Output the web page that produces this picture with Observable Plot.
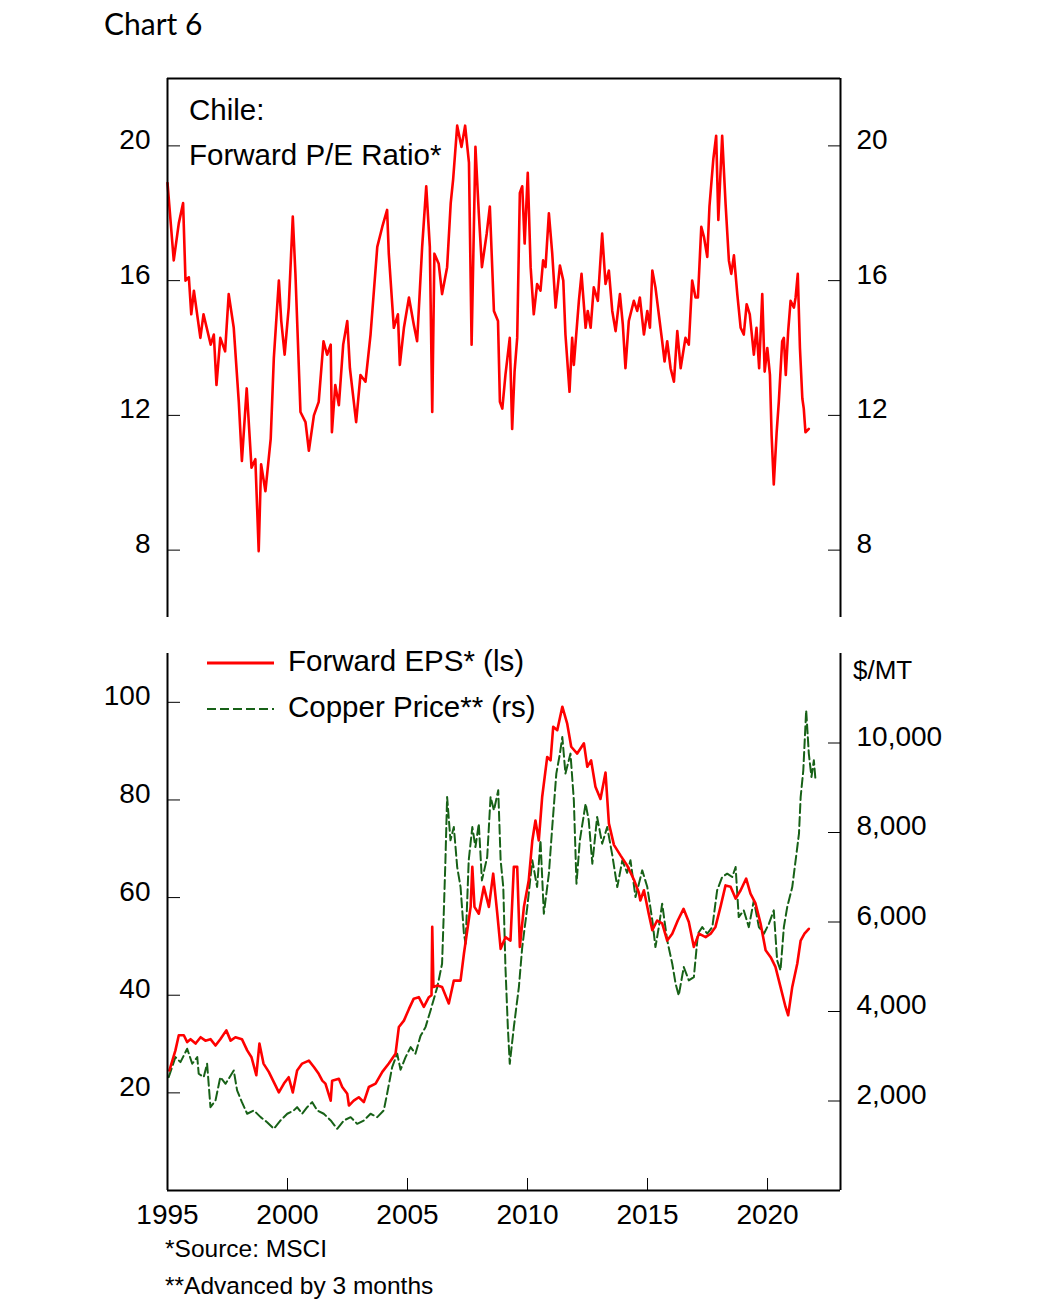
<!DOCTYPE html>
<html><head><meta charset="utf-8">
<script src="https://cdn.jsdelivr.net/npm/d3@7"></script>
<script src="https://cdn.jsdelivr.net/npm/@observablehq/plot@0.6"></script>
<style>
body{margin:0;background:#fff;}
#page{position:relative;width:1042px;height:1316px;font-family:"Liberation Sans",Arial,sans-serif;color:#000;overflow:hidden;}
.abs{position:absolute;white-space:nowrap;line-height:1;}
</style></head><body><div id="page">
<div class="abs" style="left:104px;top:8px;font-family:Lato,'Open Sans',sans-serif;font-size:30px">Chart 6</div>
<div id="topChart" class="abs" style="left:0;top:60px"></div>
<div id="botChart" class="abs" style="left:0;top:640px"></div>
<div class="abs" style="left:189px;top:95px;font-size:29.5px">Chile:</div>
<div class="abs" style="left:189px;top:140px;font-size:29.5px">Forward P/E Ratio*</div>
<svg class="abs" style="left:200px;top:650px" width="80" height="70">
  <line x1="7" x2="74" y1="13" y2="13" stroke="#ff0000" stroke-width="3"/>
  <line x1="7" x2="74" y1="59" y2="59" stroke="#176117" stroke-width="1.8" stroke-dasharray="9,4"/>
</svg>
<div class="abs" style="left:288px;top:646px;font-size:29.5px">Forward EPS* (ls)</div>
<div class="abs" style="left:288px;top:692px;font-size:29.5px">Copper Price** (rs)</div>
<div class="abs" style="left:853px;top:657px;font-size:26px">$/MT</div>
<div class="abs" style="left:165px;top:1237px;font-size:24.5px">*Source: MSCI</div>
<div class="abs" style="left:165px;top:1274px;font-size:24.5px">**Advanced by 3 months</div>
</div>
<script>
// ---------- data ----------
const xTicks = [1995, 2000, 2005, 2010, 2015, 2020];
const peTicks = [8, 12, 16, 20];
const epsTicks = [20, 40, 60, 80, 100];
const cuTicks = [2000, 4000, 6000, 8000, 10000];

const peYears = [1995.00,1995.26,1995.47,1995.65,1995.75,1995.89,1995.99,1996.10,1996.37,1996.50,1996.80,1996.93,1997.04,1997.20,1997.40,1997.55,1997.76,1997.97,1998.10,1998.30,1998.50,1998.66,1998.80,1998.90,1999.08,1999.30,1999.43,1999.64,1999.74,1999.88,2000.05,2000.22,2000.33,2000.54,2000.75,2000.89,2001.10,2001.30,2001.50,2001.65,2001.80,2001.85,2001.99,2002.14,2002.32,2002.49,2002.60,2002.86,2003.04,2003.25,2003.46,2003.74,2003.95,2004.15,2004.22,2004.43,2004.60,2004.68,2004.85,2005.06,2005.26,2005.40,2005.61,2005.78,2005.93,2006.03,2006.12,2006.30,2006.44,2006.65,2006.80,2006.90,2007.07,2007.25,2007.40,2007.56,2007.67,2007.83,2007.97,2008.10,2008.30,2008.43,2008.60,2008.77,2008.85,2008.95,2009.08,2009.26,2009.36,2009.46,2009.57,2009.68,2009.78,2009.88,2010.01,2010.13,2010.26,2010.40,2010.54,2010.65,2010.75,2010.89,2011.03,2011.17,2011.35,2011.49,2011.58,2011.75,2011.86,2011.93,2012.14,2012.25,2012.42,2012.51,2012.63,2012.76,2012.93,2013.11,2013.25,2013.39,2013.53,2013.67,2013.85,2013.97,2014.08,2014.22,2014.43,2014.57,2014.68,2014.85,2014.99,2015.10,2015.20,2015.33,2015.47,2015.61,2015.71,2015.82,2015.96,2016.10,2016.24,2016.38,2016.58,2016.72,2016.86,2017.00,2017.10,2017.24,2017.35,2017.49,2017.58,2017.74,2017.86,2017.95,2018.11,2018.25,2018.39,2018.49,2018.60,2018.74,2018.88,2019.01,2019.13,2019.26,2019.43,2019.54,2019.65,2019.78,2019.88,2019.99,2020.10,2020.17,2020.26,2020.38,2020.47,2020.61,2020.68,2020.76,2020.86,2020.96,2021.10,2021.17,2021.26,2021.35,2021.45,2021.51,2021.58,2021.72];
const peValues = [18.9,16.6,17.7,18.3,16.0,16.1,15.0,15.7,14.3,15.0,14.1,14.4,12.9,14.3,13.9,15.6,14.6,12.4,10.65,12.8,10.45,10.7,7.97,10.55,9.75,11.3,13.7,16.0,14.8,13.8,15.2,17.9,16.2,12.1,11.8,10.95,12.0,12.4,14.2,13.8,14.1,11.5,12.9,12.3,14.1,14.8,13.4,11.8,13.2,13.0,14.4,17.0,17.6,18.1,16.8,14.6,15.0,13.5,14.6,15.5,14.7,14.2,17.0,18.8,17.0,12.1,16.8,16.5,15.6,16.4,18.3,19.0,20.6,19.97,20.6,19.5,14.1,19.97,18.0,16.4,17.4,18.2,15.1,14.8,12.4,12.2,13.2,14.3,11.6,13.3,14.3,18.6,18.8,17.1,19.2,16.4,15.0,15.9,15.7,16.6,16.4,18.0,16.8,15.2,16.45,16.0,14.4,12.7,14.3,13.5,15.4,16.2,14.6,15.1,14.6,15.8,15.4,17.4,15.9,16.3,15.1,14.5,15.6,14.7,13.4,14.8,15.4,15.1,15.5,14.4,15.1,14.6,16.3,15.8,15.0,14.2,13.6,14.2,13.4,13.0,14.5,13.4,14.3,14.1,16.0,15.5,15.5,17.6,17.3,16.7,18.2,19.6,20.3,17.8,20.3,18.3,16.6,16.2,16.75,15.6,14.6,14.4,15.3,15.0,13.8,14.6,13.4,15.6,13.3,14.0,13.2,11.4,9.95,11.5,12.4,14.2,14.3,13.2,14.5,15.4,15.2,15.5,16.2,14.0,12.5,12.2,11.5,11.6];

const epsYears = [1995.08,1995.33,1995.47,1995.68,1995.82,1995.96,1996.17,1996.38,1996.58,1996.79,1997.00,1997.20,1997.45,1997.63,1997.83,1998.10,1998.32,1998.50,1998.70,1998.83,1999.00,1999.22,1999.43,1999.64,1999.85,2000.05,2000.22,2000.40,2000.61,2000.89,2001.10,2001.30,2001.45,2001.58,2001.80,2001.86,2002.14,2002.28,2002.49,2002.56,2002.76,2002.97,2003.18,2003.39,2003.67,2003.95,2004.22,2004.50,2004.64,2004.85,2005.06,2005.26,2005.47,2005.68,2005.89,2006.00,2006.03,2006.08,2006.25,2006.44,2006.72,2006.93,2007.21,2007.35,2007.49,2007.63,2007.70,2007.79,2007.97,2008.18,2008.39,2008.57,2008.74,2008.88,2009.08,2009.29,2009.43,2009.57,2009.68,2009.85,2010.05,2010.20,2010.33,2010.47,2010.61,2010.82,2010.96,2011.07,2011.24,2011.45,2011.65,2011.82,2012.07,2012.35,2012.49,2012.65,2012.83,2013.04,2013.25,2013.39,2013.60,2013.88,2014.15,2014.43,2014.64,2014.70,2014.85,2015.05,2015.20,2015.40,2015.61,2015.82,2016.03,2016.26,2016.50,2016.72,2016.93,2017.14,2017.42,2017.63,2017.83,2018.04,2018.25,2018.46,2018.67,2018.88,2019.11,2019.29,2019.50,2019.71,2019.92,2020.13,2020.33,2020.54,2020.75,2020.86,2021.03,2021.24,2021.38,2021.54,2021.72];
const epsValues = [24.6,28.7,31.8,31.8,30.4,31.0,30.1,31.4,30.7,31.0,29.7,31.0,32.8,30.7,31.4,31.0,28.7,27.3,23.6,30.1,26.0,24.3,22.2,20.1,21.9,23.2,20.1,24.6,26.0,26.6,25.3,23.9,22.5,21.9,18.4,22.5,22.9,21.2,19.8,17.4,18.4,19.1,18.1,21.2,21.9,24.3,26.0,28.0,33.5,34.8,37.2,39.3,39.6,37.6,39.6,40.0,54.0,41.7,42.0,41.7,38.3,43.0,43.0,48.5,53.3,58.1,66.3,58.1,56.7,62.2,58.1,64.9,56.7,49.5,51.9,51.2,66.3,66.3,49.9,58.1,63.5,71.7,75.8,71.7,80.6,88.8,88.1,95.0,94.3,99.1,95.7,90.9,89.5,91.6,86.8,88.1,82.7,80.2,85.6,75.2,70.8,68.6,66.6,63.7,61.0,59.4,61.5,56.7,53.3,55.3,54.7,51.2,52.6,55.3,57.7,55.0,49.9,52.6,51.9,52.6,54.0,58.1,62.5,62.2,59.8,61.5,63.9,60.8,58.8,54.7,49.2,47.8,45.8,41.7,37.6,35.9,41.7,46.5,51.2,52.6,53.6];

const cuYears = [1995.05,1995.33,1995.54,1995.82,1996.03,1996.24,1996.30,1996.51,1996.65,1996.79,1997.00,1997.20,1997.42,1997.76,1997.90,1998.10,1998.32,1998.60,1998.88,1999.15,1999.43,1999.71,1999.99,2000.26,2000.40,2000.61,2000.82,2001.03,2001.24,2001.51,2001.80,2002.07,2002.35,2002.63,2002.90,2003.18,2003.46,2003.74,2004.01,2004.15,2004.36,2004.57,2004.71,2004.92,2005.13,2005.33,2005.54,2005.75,2005.96,2006.24,2006.44,2006.51,2006.58,2006.65,2006.79,2006.93,2007.07,2007.21,2007.35,2007.42,2007.55,2007.70,2007.83,2007.97,2008.10,2008.32,2008.46,2008.60,2008.78,2008.88,2008.99,2009.08,2009.18,2009.26,2009.43,2009.64,2009.78,2009.99,2010.20,2010.40,2010.54,2010.68,2010.89,2011.03,2011.20,2011.35,2011.45,2011.58,2011.79,2011.93,2012.04,2012.18,2012.42,2012.55,2012.70,2012.90,2013.11,2013.32,2013.53,2013.74,2013.95,2014.15,2014.29,2014.50,2014.78,2014.99,2015.20,2015.33,2015.47,2015.61,2015.82,2016.03,2016.17,2016.30,2016.51,2016.72,2016.93,2017.10,2017.28,2017.49,2017.70,2017.90,2018.11,2018.32,2018.53,2018.67,2018.80,2019.01,2019.22,2019.43,2019.64,2019.85,2020.06,2020.26,2020.40,2020.54,2020.68,2020.82,2021.03,2021.17,2021.31,2021.38,2021.49,2021.61,2021.72,2021.83,2021.93,2022.00];
const cuValues = [2533,2980,2868,3168,2832,2980,2609,2533,2832,1862,2012,2533,2385,2683,2236,1974,1715,1789,1639,1527,1379,1565,1715,1789,1862,1715,1862,1974,1789,1715,1565,1379,1565,1639,1490,1565,1715,1639,1789,2161,2757,3056,2700,2980,3204,3056,3450,3651,4024,4545,5068,6186,7378,8793,7825,8122,7228,6781,5739,5515,7378,8122,7675,8198,6930,7451,8793,8495,8943,7378,6781,4992,3651,2832,3651,4545,5439,6334,7378,6781,7825,6186,7080,8122,9316,9763,10134,9316,9763,8719,6857,7825,8645,8272,7304,8346,7751,8122,7500,6781,7378,7100,7378,6557,7154,6781,6036,5439,5886,6409,5589,5068,4621,4359,4992,4695,4769,5739,5886,5739,5886,6707,7005,7080,7005,7228,6110,6260,5886,6483,5886,5739,5962,6260,5142,4918,5886,6334,6781,7378,7975,8793,9390,10731,9763,9240,9613,9166];

// ---------- build ----------
const xDomain = [1995, 2023.04];
const epsMax = 110, cuMax = 12000, k = epsMax / cuMax;
const peData = peYears.map((t, i) => ({t, v: peValues[i]}));
const epsData = epsYears.map((t, i) => ({t, v: epsValues[i]}));
const cuData = cuYears.map((t, i) => ({t, v: cuValues[i]}));
const style = {fontFamily: "'Liberation Sans', Arial, sans-serif", fontSize: "28px", color: "#000", background: "transparent", overflow: "visible"};
const blank = () => "";

function yAxes(ticks, fmt) {
  return [
    Plot.axisY({anchor: "left", ticks, tickSize: 13, dx: 13, tickFormat: blank, label: null}),
    Plot.axisY({anchor: "left", ticks, tickSize: 0, tickPadding: 17, dy: -6, label: null, fontSize: 28, tickFormat: d3.format("d")}),
    Plot.axisY({anchor: "right", ticks, tickSize: 13, dx: -13, tickFormat: blank, label: null}),
    Plot.axisY({anchor: "right", ticks, tickSize: 0, tickPadding: 16, dy: -6, label: null, fontSize: 28, tickFormat: fmt})
  ];
}

const topPlot = Plot.plot({
  width: 1042, height: 562, marginLeft: 167, marginRight: 202, marginTop: 18, marginBottom: 5,
  x: {domain: xDomain, axis: null},
  y: {domain: [6, 22], axis: null},
  style,
  marks: [
    ...yAxes(peTicks, d3.format("d")),
    Plot.line(peData, {x: "t", y: "v", stroke: "#ff0000", strokeWidth: 2.6}),
    Plot.ruleX(xDomain, {strokeWidth: 2}),
    Plot.ruleY([22], {strokeWidth: 2})
  ]
});
document.getElementById("topChart").appendChild(topPlot);

const cuPos = cuTicks.map(c => c * k);
const botPlot = Plot.plot({
  width: 1042, height: 600, marginLeft: 167, marginRight: 202, marginTop: 13, marginBottom: 50,
  x: {domain: xDomain, axis: null},
  y: {domain: [0, epsMax], axis: null},
  style,
  marks: [
    Plot.axisY({anchor: "left", ticks: epsTicks, tickSize: 13, dx: 13, tickFormat: blank, label: null}),
    Plot.axisY({anchor: "left", ticks: epsTicks, tickSize: 0, tickPadding: 17, dy: -6, label: null, fontSize: 28, tickFormat: d3.format("d")}),
    Plot.axisY({anchor: "right", ticks: cuPos, tickSize: 13, dx: -13, tickFormat: blank, label: null}),
    Plot.axisY({anchor: "right", ticks: cuPos, tickSize: 0, tickPadding: 16, dy: -6, label: null, fontSize: 28, tickFormat: v => d3.format(",")(Math.round(v / k))}),
    Plot.axisX({anchor: "bottom", ticks: xTicks, tickSize: 12, dy: -12, tickPadding: 14, label: null, fontSize: 28, tickFormat: d3.format("d")}),
    Plot.line(cuData, {x: "t", y: d => d.v * k, stroke: "#176117", strokeWidth: 2, strokeDasharray: "9,4"}),
    Plot.line(epsData, {x: "t", y: "v", stroke: "#ff0000", strokeWidth: 2.6}),
    Plot.ruleX(xDomain, {strokeWidth: 2}),
    Plot.ruleY([0], {strokeWidth: 2})
  ]
});
document.getElementById("botChart").appendChild(botPlot);
</script>
</body></html>
